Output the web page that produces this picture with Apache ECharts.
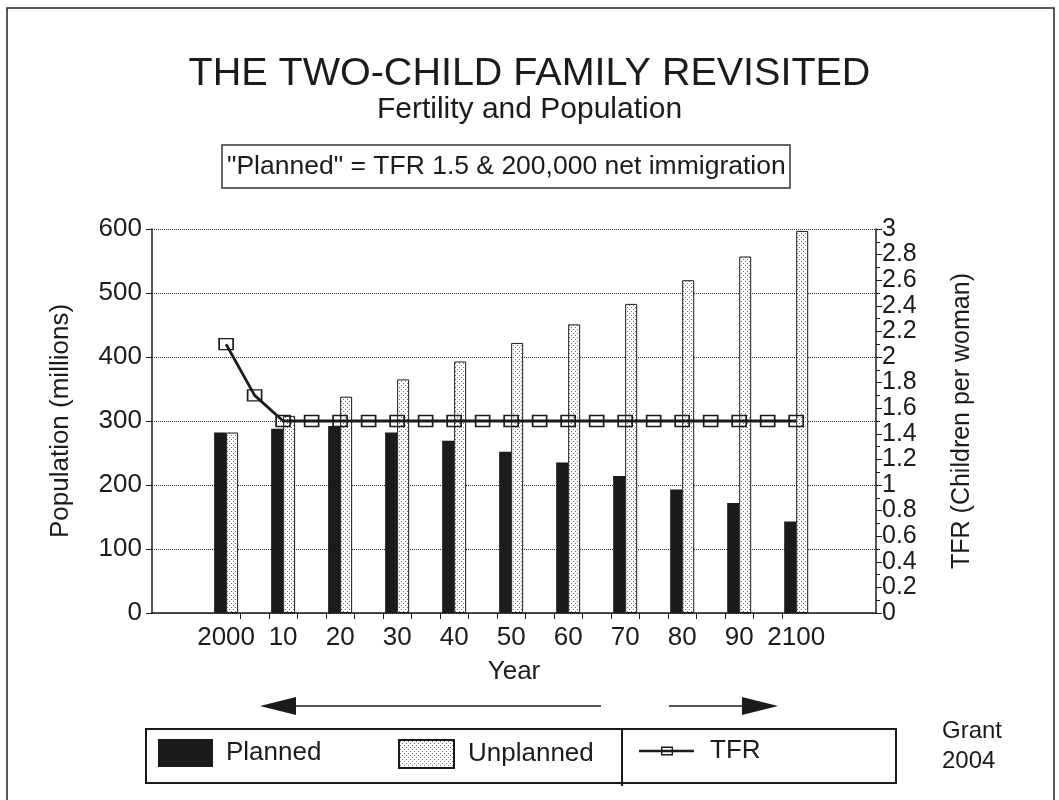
<!DOCTYPE html>
<html>
<head>
<meta charset="utf-8">
<title>The Two-Child Family Revisited</title>
<script src="https://cdn.jsdelivr.net/npm/echarts@6/dist/echarts.min.js"></script>
<style>
  html, body { margin: 0; padding: 0; background: #fff; }
  #chart { width: 1059px; height: 800px; }
</style>
</head>
<body>
<div id="chart"></div>
<script>
// values
var years = [2000, 2010, 2020, 2030, 2040, 2050, 2060, 2070, 2080, 2090, 2100];
var planned = [282, 288, 292, 282, 269, 252, 235, 214, 193, 172, 143];
var unplanned = [282, 308, 338, 365, 393, 422, 451, 483, 520, 557, 597];

var tfrYears = [2000, 2005, 2010, 2015, 2020, 2025, 2030, 2035, 2040, 2045, 2050,
                2055, 2060, 2065, 2070, 2075, 2080, 2085, 2090, 2095, 2100];
var tfr = [2.1, 1.7, 1.5, 1.5, 1.5, 1.5, 1.5, 1.5, 1.5, 1.5, 1.5,
           1.5, 1.5, 1.5, 1.5, 1.5, 1.5, 1.5, 1.5, 1.5, 1.5];

var xLabels = ['2000', '10', '20', '30', '40', '50', '60', '70', '80', '90', '2100'];
var xTicks = [2002.5, 2007.5, 2012.5, 2017.5, 2022.5, 2027.5, 2032.5, 2037.5, 2042.5, 2047.5,
              2052.5, 2057.5, 2062.5, 2067.5, 2072.5, 2077.5, 2082.5, 2087.5, 2092.5, 2097.5];

var FONT = '"Liberation Sans", Arial, Helvetica, sans-serif';
var INK = '#1c1a1b';

// stipple fill for the "Unplanned" bars
function dotPattern() {
  var c = document.createElement('canvas');
  c.width = 4; c.height = 4;
  var ctx = c.getContext('2d');
  ctx.fillStyle = '#fff';
  ctx.fillRect(0, 0, 4, 4);
  ctx.fillStyle = '#707070';
  ctx.fillRect(1, 1, 1, 1);
  ctx.fillRect(3, 3, 1, 1);
  return c;
}

var chart = echarts.init(document.getElementById('chart'), null, { renderer: 'canvas' });

// line with a small hollow box, sized to the 55x28 legend slot
var tfrIcon = 'path://M0 0 M55 28 M0 12.7 L55 12.7 L55 15.3 L0 15.3 Z ' +
  'M22 9.5 L34 9.5 L34 18.5 L22 18.5 Z M23.4 10.9 L23.4 17.1 L32.6 17.1 L32.6 10.9 Z';

chart.setOption({
  backgroundColor: '#fff',
  animation: false,
  textStyle: { fontFamily: FONT, color: INK },
  title: [
    {
      text: 'THE TWO-CHILD FAMILY REVISITED',
      left: 'center', top: 49,
      textStyle: { fontSize: 39.5, fontWeight: 'normal', color: INK, fontFamily: FONT }
    },
    {
      text: 'Fertility and Population',
      left: 'center', top: 90,
      textStyle: { fontSize: 30, fontWeight: 'normal', color: INK, fontFamily: FONT }
    },
    {
      text: '"Planned" = TFR 1.5 & 200,000 net immigration',
      left: 222, top: 145,
      padding: [8, 5, 8, 5],
      borderWidth: 1.5, borderColor: '#333',
      textStyle: { fontSize: 26.5, fontWeight: 'normal', color: INK, fontFamily: FONT }
    }
  ],
  legend: [
    {
      data: [{ name: 'Planned', icon: 'rect' }], left: 158, top: 739, padding: 0,
      itemWidth: 55, itemHeight: 28, selectedMode: false,
      textStyle: { fontSize: 26, color: INK, padding: [0, 0, 0, 8] }
    },
    {
      data: [{ name: 'Unplanned', icon: 'rect' }], left: 398, top: 739, padding: 0,
      itemWidth: 55, itemHeight: 28, selectedMode: false,
      textStyle: { fontSize: 26, color: INK, padding: [0, 0, 0, 9] }
    },
    {
      data: [{ name: 'TFR', icon: tfrIcon, itemStyle: { color: INK, borderWidth: 0 } }],
      left: 639, top: 737, padding: 0,
      itemWidth: 55, itemHeight: 28, selectedMode: false,
      textStyle: { fontSize: 26, color: INK, padding: [0, 0, 0, 11] }
    }
  ],
  grid: { left: 152, right: 183, top: 229, bottom: 187 },
  xAxis: {
    type: 'value',
    min: 1987, max: 2114,
    name: 'Year',
    nameLocation: 'middle',
    nameGap: 46,
    nameTextStyle: { fontSize: 26, color: INK },
    axisLine: { lineStyle: { color: INK, width: 1.5 } },
    axisTick: { show: true, length: 6, customValues: xTicks, lineStyle: { color: INK } },
    axisLabel: {
      customValues: years,
      fontSize: 26, color: INK, margin: 12,
      formatter: function (v) { return xLabels[years.indexOf(v)]; }
    },
    splitLine: { show: false }
  },
  yAxis: [
    {
      type: 'value',
      min: 0, max: 600, interval: 100,
      name: 'Population (millions)',
      nameLocation: 'middle',
      nameRotate: 90,
      nameGap: 78,
      nameTextStyle: { fontSize: 26, color: INK },
      axisLine: { show: true, lineStyle: { color: INK, width: 1.5 } },
      axisTick: { show: true, length: 6, lineStyle: { color: INK } },
      axisLabel: { fontSize: 26, color: INK, margin: 10 },
      splitLine: { show: true, lineStyle: { color: '#2a2a2a', type: 'dotted', width: 1 } }
    },
    {
      type: 'value',
      min: 0, max: 3, interval: 0.2,
      position: 'right',
      name: 'TFR (Children per woman)',
      nameLocation: 'middle',
      nameRotate: 90,
      nameGap: 74,
      nameTextStyle: { fontSize: 25, color: INK },
      axisLine: { show: true, lineStyle: { color: INK, width: 1.5 } },
      axisTick: { show: true, length: 6, lineStyle: { color: INK } },
      minorTick: { show: true, splitNumber: 2, length: 4, lineStyle: { color: INK } },
      axisLabel: {
        fontSize: 25, color: INK, margin: 6,
        formatter: function (v) { return String(+v.toFixed(1)); }
      },
      splitLine: { show: false }
    }
  ],
  series: [
    {
      name: 'Planned',
      type: 'bar',
      barWidth: 12,
      barGap: '0%',
      itemStyle: { color: INK },
      data: years.map(function (y, i) { return [y, planned[i]]; })
    },
    {
      name: 'Unplanned',
      type: 'bar',
      barWidth: 12,
      barGap: '0%',
      itemStyle: {
        color: { image: dotPattern(), repeat: 'repeat' },
        borderColor: INK, borderWidth: 1
      },
      data: years.map(function (y, i) { return [y, unplanned[i]]; })
    },
    {
      name: 'TFR',
      type: 'line',
      yAxisIndex: 1,
      symbol: 'rect',
      symbolSize: [14, 11],
      lineStyle: { color: INK, width: 2.8 },
      itemStyle: { color: 'rgba(255,255,255,0)', borderColor: INK, borderWidth: 1.5 },
      z: 5,
      data: tfrYears.map(function (y, i) { return [y, tfr[i]]; })
    }
  ],
  graphic: [
    // outer frame of the scanned figure
    { type: 'rect', shape: { x: 7, y: 8, width: 1047, height: 820 },
      style: { fill: 'none', stroke: '#222', lineWidth: 1.5 }, silent: true },
    // legend box
    { type: 'rect', shape: { x: 146, y: 729, width: 750, height: 54 },
      style: { fill: 'none', stroke: INK, lineWidth: 2 }, silent: true },
    { type: 'line', shape: { x1: 622, y1: 729, x2: 622, y2: 786 },
      style: { stroke: INK, lineWidth: 2 }, silent: true },
    // arrows above the legend
    { type: 'line', shape: { x1: 601, y1: 706, x2: 292, y2: 706 },
      style: { stroke: INK, lineWidth: 1.5 }, silent: true },
    { type: 'polygon', shape: { points: [[260, 706], [296, 697], [296, 715]] },
      style: { fill: INK }, silent: true },
    { type: 'line', shape: { x1: 669, y1: 706, x2: 745, y2: 706 },
      style: { stroke: INK, lineWidth: 1.5 }, silent: true },
    { type: 'polygon', shape: { points: [[778, 706], [742, 697], [742, 715]] },
      style: { fill: INK }, silent: true },
    // source note
    { type: 'text', left: 942, top: 716,
      style: { text: 'Grant\n2004', fontSize: 24, lineHeight: 30, fill: INK,
               fontFamily: FONT, align: 'center' }, silent: true }
  ]
});
</script>
</body>
</html>
